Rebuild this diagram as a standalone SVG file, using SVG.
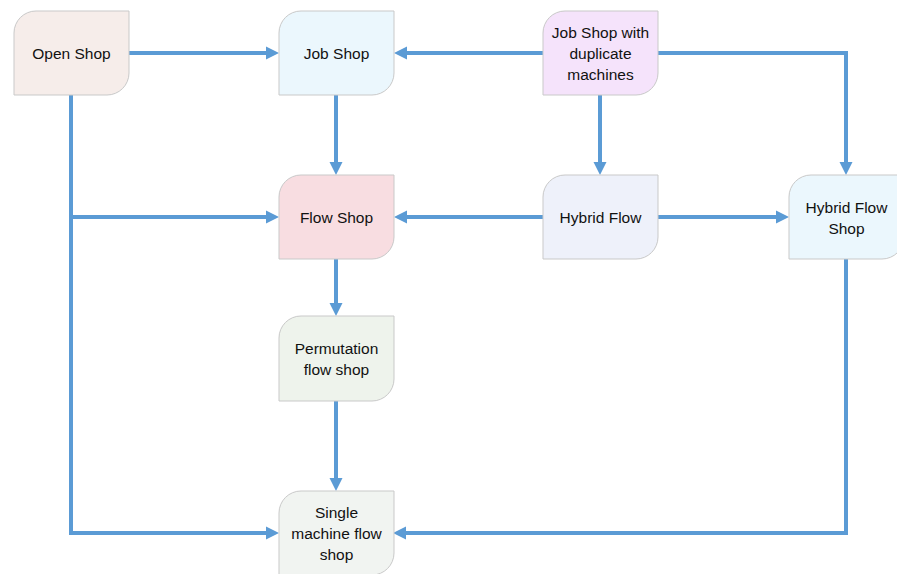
<svg xmlns="http://www.w3.org/2000/svg" width="897" height="574" viewBox="0 0 897 574">
<style>
.n{stroke:#C9C9C9;stroke-width:1}
.t{font-family:"Liberation Sans",Arial,sans-serif;font-size:15.5px;fill:#111;text-anchor:middle}
.c{fill:none;stroke:#5B9BD5;stroke-width:4;stroke-linejoin:miter}
</style>
<defs>
<marker id="a" markerUnits="userSpaceOnUse" markerWidth="14" markerHeight="14" viewBox="0 0 14 14" refX="7" refY="7" orient="auto"><path d="M0,0.5 L13,7 L0,13.5 Z" fill="#5B9BD5"/></marker>
</defs>
<rect width="897" height="574" fill="#fff"/>
<g id="connectors">
<path class="c" d="M129,53 H273" marker-end="url(#a)"/>
<path class="c" d="M543,53 H400" marker-end="url(#a)"/>
<path class="c" d="M658,53 H846 V169" marker-end="url(#a)"/>
<path class="c" d="M600,95 V169" marker-end="url(#a)"/>
<path class="c" d="M336,95 V169" marker-end="url(#a)"/>
<path class="c" d="M543,217 H400" marker-end="url(#a)"/>
<path class="c" d="M658,217 H783" marker-end="url(#a)"/>
<path class="c" d="M71,95 V533 H273" marker-end="url(#a)"/>
<path class="c" d="M71,217 H273" marker-end="url(#a)"/>
<path class="c" d="M336,259 V310" marker-end="url(#a)"/>
<path class="c" d="M336,400 V485" marker-end="url(#a)"/>
<path class="c" d="M846,259 V533 H399" marker-end="url(#a)"/>
</g>
<g id="open-shop">
<path class="n" fill="#F6EDEA" d="M14,33 A22,22 0 0 1 36,11 H129 V73 A22,22 0 0 1 107,95 H14 Z"/>
<text class="t" x="71.5" y="58.5">Open Shop</text>
</g>
<g id="job-shop">
<path class="n" fill="#EBF7FD" d="M279,33 A22,22 0 0 1 301,11 H394 V73 A22,22 0 0 1 372,95 H279 Z"/>
<text class="t" x="336.5" y="58.5">Job Shop</text>
</g>
<g id="job-shop-dup">
<path class="n" fill="#F5E3FB" d="M543,33 A22,22 0 0 1 565,11 H658 V73 A22,22 0 0 1 636,95 H543 Z"/>
<text class="t" x="600.5" y="37.5">Job Shop with</text>
<text class="t" x="600.5" y="58.5">duplicate</text>
<text class="t" x="600.5" y="79.5">machines</text>
</g>
<g id="flow-shop">
<path class="n" fill="#F8DDE1" d="M279,197 A22,22 0 0 1 301,175 H394 V237 A22,22 0 0 1 372,259 H279 Z"/>
<text class="t" x="336.5" y="222.5">Flow Shop</text>
</g>
<g id="hybrid-flow">
<path class="n" fill="#EEF1FA" d="M543,197 A22,22 0 0 1 565,175 H658 V237 A22,22 0 0 1 636,259 H543 Z"/>
<text class="t" x="600.5" y="222.5">Hybrid Flow</text>
</g>
<g id="hybrid-flow-shop">
<path class="n" fill="#EBF7FD" d="M789,197 A22,22 0 0 1 811,175 H904 V237 A22,22 0 0 1 882,259 H789 Z"/>
<text class="t" x="846.5" y="212.5">Hybrid Flow</text>
<text class="t" x="846.5" y="233.5">Shop</text>
</g>
<g id="permutation">
<path class="n" fill="#EEF3EC" d="M279,338 A22,22 0 0 1 301,316 H394 V379 A22,22 0 0 1 372,401 H279 Z"/>
<text class="t" x="336.5" y="353.5">Permutation</text>
<text class="t" x="336.5" y="374.5">flow shop</text>
</g>
<g id="single-machine">
<path class="n" fill="#F1F4F1" d="M279,513 A22,22 0 0 1 301,491 H394 V553 A22,22 0 0 1 372,575 H279 Z"/>
<text class="t" x="336.5" y="517.5">Single</text>
<text class="t" x="336.5" y="538.5">machine flow</text>
<text class="t" x="336.5" y="559.5">shop</text>
</g>
</svg>
